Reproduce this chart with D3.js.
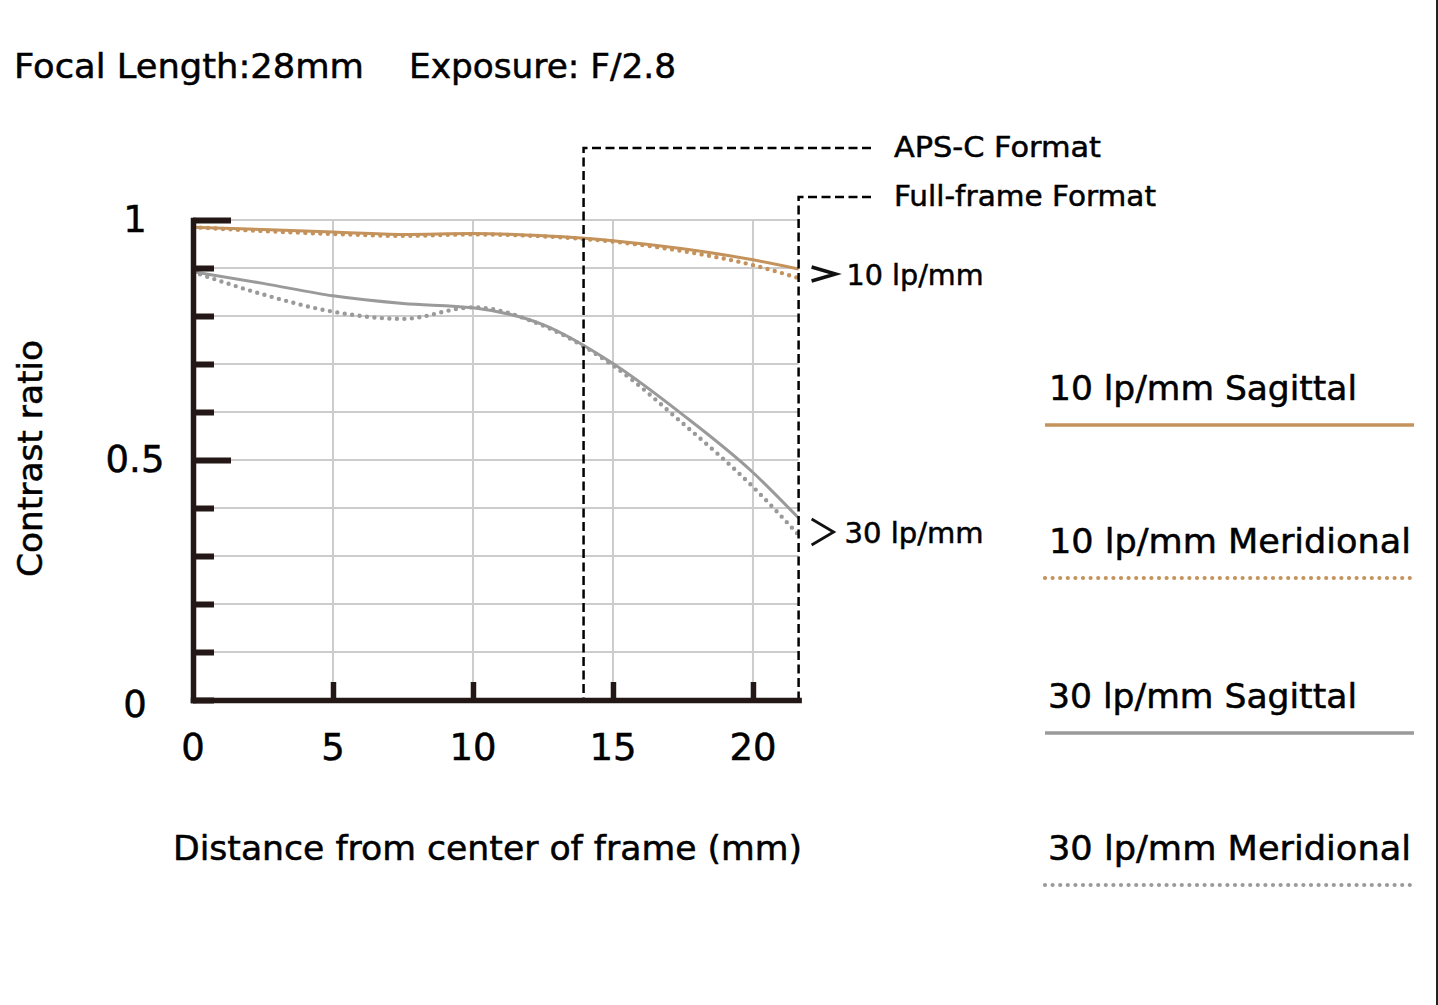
<!DOCTYPE html>
<html>
<head>
<meta charset="utf-8">
<script src="https://cdn.jsdelivr.net/npm/d3@7"></script>
<style>
  body { margin: 0; background: #fff; }
  svg { display: block; font-family: "DejaVu Sans", "Liberation Sans", sans-serif; }
</style>
</head>
<body>
<div id="chart"></div>
<script>
// distance from center of frame (mm)
const distance = [0, 2.5, 5, 7.5, 10, 12.5, 15, 17.5, 20, 21.63];
// contrast ratio per series
const sag10 = [0.985, 0.980, 0.975, 0.970, 0.972, 0.967, 0.957, 0.940, 0.917, 0.898];
const mer10 = [0.985, 0.977, 0.971, 0.967, 0.970, 0.966, 0.955, 0.935, 0.906, 0.879];
const sag30 = [0.892, 0.868, 0.842, 0.826, 0.817, 0.782, 0.701, 0.594, 0.474, 0.379];
const mer30 = [0.892, 0.845, 0.809, 0.794, 0.818, 0.780, 0.697, 0.576, 0.444, 0.344];

const xTicks = [0, 5, 10, 15, 20];
const yLabels = [0, 0.5, 1];
const formatNames = ["APS-C Format", "Full-frame Format"];
const formatLimits = [13.95, 21.63];
const freqNames = ["10 lp/mm", "30 lp/mm"];
const legendNames = ["10 lp/mm Sagittal", "10 lp/mm Meridional", "30 lp/mm Sagittal", "30 lp/mm Meridional"];

const ORANGE = "#c4925b";
const GRAY = "#9a9a9a";
const AXIS = "#231815";

function drawChart() {
  const width = 1438, height = 1005;
  const svg = d3.select("#chart").append("svg")
      .attr("width", width)
      .attr("height", height);

  const x = d3.scaleLinear().domain([0, 21.63]).range([193, 798.6]);
  const y = d3.scaleLinear().domain([0, 1]).range([700, 220]);

  const series = [
    { name: legendNames[0], values: sag10, color: ORANGE, dotted: false },
    { name: legendNames[1], values: mer10, color: ORANGE, dotted: true },
    { name: legendNames[2], values: sag30, color: GRAY, dotted: false },
    { name: legendNames[3], values: mer30, color: GRAY, dotted: true }
  ];

  // helper for text with a fixed width (a thin stroke makes it a bit heavier)
  function addText(str, tx, ty, size, w, anchor) {
    const t = svg.append("text")
        .attr("x", tx)
        .attr("y", ty)
        .attr("font-size", size)
        .attr("fill", "#000")
        .attr("stroke", "#000")
        .attr("stroke-width", 0.5)
        .attr("text-anchor", anchor || "start")
        .text(str);
    if (w) t.attr("textLength", w).attr("lengthAdjust", "spacingAndGlyphs");
    return t;
  }

  // title
  addText("Focal Length:28mm", 14, 78, 34, 350);
  addText("Exposure: F/2.8", 409, 78, 34, 267);

  // grid
  const grid = svg.append("g").attr("stroke", "#cccccc").attr("stroke-width", 2);
  grid.selectAll("line.h")
      .data(d3.range(1, 11).map(d => d / 10))
      .enter().append("line")
      .attr("class", "h")
      .attr("x1", x(0)).attr("x2", x(21.63))
      .attr("y1", d => y(d)).attr("y2", d => y(d));
  grid.selectAll("line.v")
      .data(xTicks.slice(1))
      .enter().append("line")
      .attr("class", "v")
      .attr("x1", d => x(d)).attr("x2", d => x(d))
      .attr("y1", y(0)).attr("y2", y(1));

  // curves
  const line = d3.line()
      .x((d, i) => x(distance[i]))
      .y(d => y(d))
      .curve(d3.curveMonotoneX);

  svg.append("g").selectAll("path")
      .data(series)
      .enter().append("path")
      .attr("d", d => line(d.values))
      .attr("fill", "none")
      .attr("stroke", d => d.color)
      .attr("stroke-width", d => d.dotted ? 4.4 : 3)
      .attr("stroke-linecap", d => d.dotted ? "round" : "butt")
      .attr("stroke-dasharray", d => d.dotted ? "0 7.5" : null);

  // format boundaries
  const fmtTop = [148, 197];
  const fmt = svg.append("g")
      .attr("fill", "none")
      .attr("stroke", "#000")
      .attr("stroke-width", 2.5)
      .attr("stroke-dasharray", "9 4.5");
  formatLimits.forEach((lim, i) => {
    fmt.append("path")
        .attr("d", `M871,${fmtTop[i]}H${x(lim)}V${y(0)}`);
    addText(formatNames[i], 894, fmtTop[i] + 9, 28, i === 0 ? 207 : 262);
  });

  // y axis, ticks pointing inwards
  const yAxis = svg.append("g")
      .attr("transform", `translate(${x(0)},0)`)
      .call(d3.axisRight(y)
          .tickValues(d3.range(0, 11).map(d => d / 10))
          .tickSize(21)
          .tickSizeOuter(0)
          .tickFormat(""));
  yAxis.selectAll(".tick line")
      .attr("stroke", AXIS)
      .attr("stroke-width", 6)
      .attr("x2", d => (d === 0.5 || d === 1) ? 38 : 21);
  yAxis.select(".domain")
      .attr("stroke", AXIS)
      .attr("stroke-width", 5.5)
      .attr("stroke-linecap", "square");

  // x axis
  const xAxis = svg.append("g")
      .attr("transform", `translate(0,${y(0)})`)
      .call(d3.axisTop(x)
          .tickValues(xTicks.slice(1))
          .tickSize(18)
          .tickSizeOuter(0)
          .tickFormat(""));
  xAxis.selectAll(".tick line")
      .attr("stroke", AXIS)
      .attr("stroke-width", 5.5);
  xAxis.select(".domain")
      .attr("stroke", AXIS)
      .attr("stroke-width", 5.5)
      .attr("stroke-linecap", "square");

  // tick labels
  yLabels.forEach(v => {
    addText(v === 0.5 ? "0.5" : String(v), 135, y(v) + (v === 0 ? 17 : 12), 37, null, "middle");
  });
  xTicks.forEach(v => {
    addText(String(v), x(v), 760, 37, null, "middle");
  });

  // axis titles
  addText("Distance from center of frame (mm)", 173, 860, 33, 629);
  addText("Contrast ratio", 0, 0, 33, 237)
      .attr("transform", "translate(42,577) rotate(-90)");

  // frequency labels with chevrons
  const freqY = [285, 543];
  const chevron = [
    { w: 24, h: 14, sw: 3.5 },
    { w: 22, h: 26, sw: 2.8 }
  ];
  freqNames.forEach((name, i) => {
    const cx = x(21.63) + 13;
    const cy = freqY[i] - 11;
    const c = chevron[i];
    svg.append("path")
        .attr("d", `M${cx},${cy - c.h / 2}L${cx + c.w},${cy}L${cx},${cy + c.h / 2}`)
        .attr("fill", "none")
        .attr("stroke", "#111")
        .attr("stroke-width", c.sw);
    addText(name, cx + 35 - i * 2, freqY[i], 28, 137 + i * 2);
  });

  // legend
  const legY = [400, 553, 708, 860];
  const legW = [308, 362, 309, 363];
  series.forEach((s, i) => {
    addText(s.name, i < 2 ? 1049 : 1048, legY[i], 33, legW[i]);
    svg.append("line")
        .attr("x1", 1045).attr("x2", 1414)
        .attr("y1", legY[i] + 25).attr("y2", legY[i] + 25)
        .attr("stroke", s.color)
        .attr("stroke-width", s.dotted ? 4.2 : 3.5)
        .attr("stroke-linecap", s.dotted ? "round" : "butt")
        .attr("stroke-dasharray", s.dotted ? "0 7.6" : null);
  });

  // right border
  svg.append("line")
      .attr("x1", 1437).attr("x2", 1437)
      .attr("y1", 0).attr("y2", height)
      .attr("stroke", "#222")
      .attr("stroke-width", 2);
}

if (document.readyState === "loading") {
  document.addEventListener("DOMContentLoaded", drawChart);
} else {
  drawChart();
}
</script>
</body>
</html>
